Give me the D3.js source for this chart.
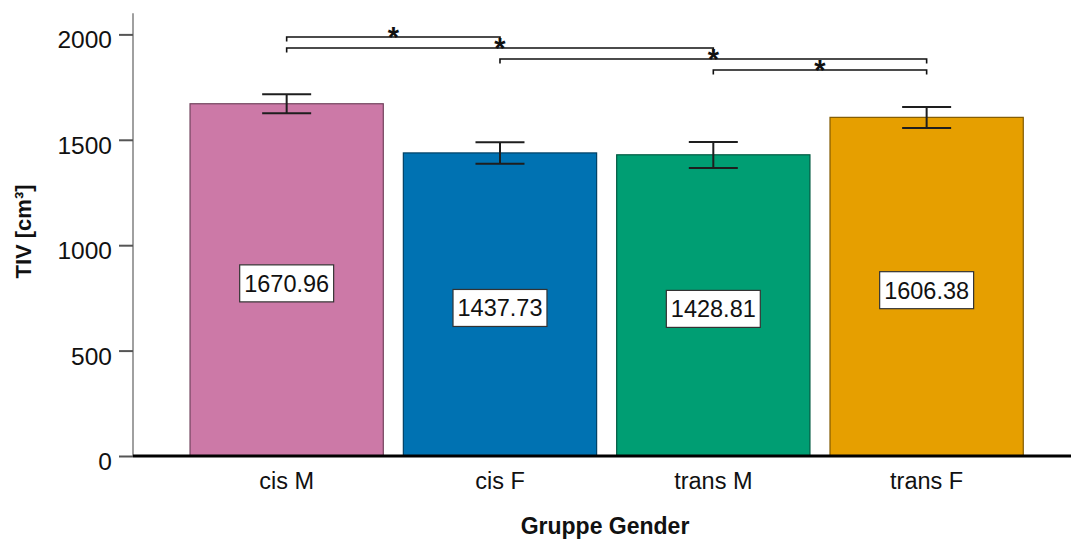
<!DOCTYPE html>
<html>
<head>
<meta charset="utf-8">
<script src="https://cdn.jsdelivr.net/npm/d3@7"></script>
<style>
  html, body { margin: 0; padding: 0; background: #fff; }
  svg { display: block; font-family: "Liberation Sans", Arial, sans-serif; }
</style>
</head>
<body>
<svg id="chart" width="1071" height="540"></svg>
<script>
// Mean total intracranial volume per gender group
const groups = ["cis M", "cis F", "trans M", "trans F"];
const means = [1670.96, 1437.73, 1428.81, 1606.38];
const ciLow = [1626, 1386, 1366, 1556];
const ciHigh = [1716, 1488, 1490, 1656];
const fills = ["#CC79A7", "#0072B2", "#009E73", "#E69F00"];
const yTicks = [0, 500, 1000, 1500, 2000];
// Significant pairwise comparisons (indices into groups)
const comparisons = [[0, 1], [0, 2], [1, 3], [2, 3]];

const svg = d3.select("#chart");
const W = 1071, H = 540;
const axisX = 133, baseY = 456, topY = 13.3;

const y = d3.scaleLinear().domain([0, 2100]).range([baseY, topY]);
const x = d3.scaleBand().domain(groups)
  .range([180, 1033.3]).paddingInner(0.094).paddingOuter(0.047);

// Bars
const bars = svg.append("g");
groups.forEach((g, i) => {
  const c = d3.color(fills[i]);
  bars.append("rect")
    .attr("x", x(g))
    .attr("y", y(means[i]))
    .attr("width", x.bandwidth())
    .attr("height", y(0) - y(means[i]))
    .attr("fill", fills[i])
    .attr("stroke", c.darker(1.6))
    .attr("stroke-width", 1.2);
});

// Error bars
const err = svg.append("g").attr("stroke", "#1e1e1e").attr("stroke-width", 2);
const capHalf = 24.5;
groups.forEach((g, i) => {
  const cx = x(g) + x.bandwidth() / 2;
  err.append("line").attr("x1", cx).attr("x2", cx)
    .attr("y1", y(ciLow[i])).attr("y2", y(ciHigh[i]));
  [ciLow[i], ciHigh[i]].forEach(v => {
    err.append("line").attr("x1", cx - capHalf).attr("x2", cx + capHalf)
      .attr("y1", y(v)).attr("y2", y(v));
  });
});

// Value labels in boxes, centred on the middle of each bar
const labels = svg.append("g");
groups.forEach((g, i) => {
  const cx = x(g) + x.bandwidth() / 2;
  const cy = y(means[i] / 2) + 3.5;
  const grp = labels.append("g");
  const box = grp.append("rect");
  const t = grp.append("text")
    .attr("x", cx).attr("y", cy + 8.4)
    .attr("text-anchor", "middle")
    .attr("font-size", 23.5)
    .attr("fill", "#111")
    .text(d3.format(".2f")(means[i]));
  const w = t.node().getComputedTextLength() + 9;
  box.attr("x", cx - w / 2).attr("y", cy - 18.5)
    .attr("width", w).attr("height", 37)
    .attr("fill", "#fff").attr("stroke", "#333").attr("stroke-width", 1.2);
});

// Y axis
const yAxis = d3.axisLeft(y).tickValues(yTicks).tickFormat(d3.format("d"))
  .tickSize(14).tickPadding(7);
const yg = svg.append("g").attr("transform", `translate(${axisX},0)`).call(yAxis);
yg.select(".domain").attr("stroke", "#808080").attr("stroke-width", 1.5)
  .attr("d", `M0,${topY}V${baseY}`);
yg.selectAll(".tick line").attr("stroke", "#555").attr("stroke-width", 2);
yg.selectAll(".tick text")
  .attr("font-size", 24.5).attr("fill", "#111")
  .attr("font-family", "Liberation Sans, Arial, sans-serif")
  .attr("dy", "0.55em");

// Baseline
svg.append("line").attr("x1", axisX).attr("x2", W)
  .attr("y1", baseY).attr("y2", baseY)
  .attr("stroke", "#000").attr("stroke-width", 3);

// X axis category labels
const xAxis = d3.axisBottom(x).tickSize(0).tickPadding(0);
const xg = svg.append("g").attr("transform", `translate(0,${baseY})`).call(xAxis);
xg.select(".domain").remove();
xg.selectAll(".tick text")
  .attr("font-size", 23.5).attr("fill", "#111")
  .attr("font-family", "Liberation Sans, Arial, sans-serif")
  .attr("y", 33).attr("dy", 0);

// Axis titles
svg.append("text")
  .attr("x", 605).attr("y", 533.5)
  .attr("text-anchor", "middle")
  .attr("font-size", 23).attr("font-weight", "bold").attr("fill", "#111")
  .text("Gruppe Gender");

svg.append("text")
  .attr("transform", "translate(31,231.5) rotate(-90)")
  .attr("text-anchor", "middle")
  .attr("font-size", 22).attr("font-weight", "bold").attr("fill", "#111")
  .text("TIV [cm³]");

// Significance brackets
const br = svg.append("g");
comparisons.forEach(([a, b], k) => {
  const x1 = x(groups[a]) + x.bandwidth() / 2;
  const x2 = x(groups[b]) + x.bandwidth() / 2;
  const ly = 37 + k * 11;
  br.append("path")
    .attr("d", `M${x1},${ly + 4.5}V${ly}H${x2}V${ly + 4.5}`)
    .attr("fill", "none").attr("stroke", "#111").attr("stroke-width", 1.6);
  br.append("text")
    .attr("x", (x1 + x2) / 2).attr("y", ly + 9.5)
    .attr("text-anchor", "middle")
    .attr("font-size", 29).attr("font-weight", "bold").attr("fill", "#111")
    .text("*");
});
</script>
</body>
</html>
